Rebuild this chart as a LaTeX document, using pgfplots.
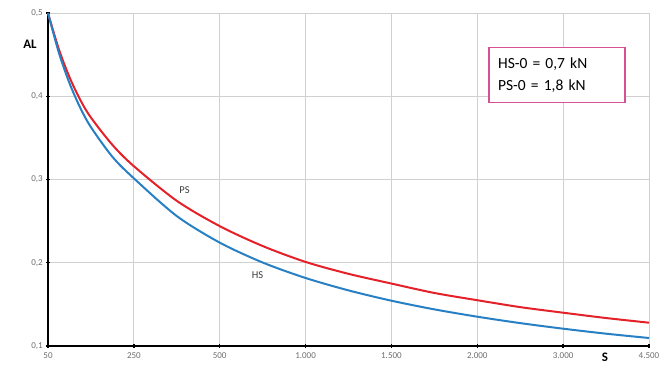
\documentclass[border=0pt]{standalone}
\usepackage{fontspec}
\setmainfont{Carlito}
\usepackage{pgfplots}
\pgfplotsset{compat=1.18}
\definecolor{redc}{RGB}{228,32,40}
\definecolor{bluec}{RGB}{40,128,196}
\definecolor{boxc}{RGB}{214,80,150}
\definecolor{gridc}{RGB}{208,208,208}
\definecolor{tickc}{RGB}{110,110,110}
\definecolor{labc}{RGB}{60,60,60}
\begin{document}
\begin{tikzpicture}
\begin{axis}[
  at={(0,0)}, anchor=south west,
  scale only axis, width=601pt, height=333pt,
  xmin=0, xmax=7, ymin=0.1, ymax=0.5,
  xtick={0,1,2,3,4,5,6,7},
  xticklabels={50,250,500,1.000,1.500,2.000,3.000,4.500},
  ytick={0.1,0.2,0.3,0.4,0.5},
  yticklabel style={/pgf/number format/.cd, use comma, fixed, fixed zerofill, precision=1},
  /pgf/number format/assume math mode=true,
  axis x line=bottom, axis y line=left,
  axis line style={-, black, line width=2pt},
  grid=major, grid style={gridc, line width=0.8pt},
  tick align=center, major tick length=3.5pt,
  tick style={black, line width=1.4pt},
  ticklabel style={font=\fontsize{9}{10}\selectfont, text=tickc},
  xticklabel style={yshift=-1pt},
  clip=false,
]
\addplot[redc, line width=2pt, smooth] coordinates {
 (0,0.500) (0.125,0.4569) (0.25,0.4230) (0.375,0.3958) (0.5,0.3744) (0.75,0.3416)
 (1,0.316) (1.5,0.2744) (2,0.244) (2.5,0.2201) (3,0.201) (3.5,0.1867) (4,0.175)
 (4.5,0.1637) (5,0.155) (5.5,0.1467) (6,0.140) (6.5,0.1336) (7,0.128)};
\addplot[bluec, line width=2pt, smooth] coordinates {
 (0,0.500) (0.125,0.4528) (0.25,0.4158) (0.375,0.3863) (0.5,0.3629) (0.75,0.3273)
 (1,0.3014) (1.5,0.2561) (2,0.2242) (2.5,0.2003) (3,0.1817) (3.5,0.1668) (4,0.1544)
 (4.5,0.1440) (5,0.1352) (5.5,0.1275) (6,0.1208) (6.5,0.1148) (7,0.1096)};
\node[font=\fontsize{10.5}{12}\selectfont, text=labc] at (axis cs:1.59,0.2875) {PS};
\node[font=\fontsize{10.5}{12}\selectfont, text=labc] at (axis cs:2.44,0.1855) {HS};
\node[draw=boxc, line width=1.3pt, fill=white, align=left, anchor=north west,
      inner xsep=9pt, inner ysep=6pt, text=black, text width=118pt,
      font=\fontsize{15.5}{22}\selectfont, minimum height=55pt]
  at (axis cs:5.13,0.459) {HS-0 = 0,7 kN\\PS-0 = 1,8 kN};
\end{axis}
\node[font=\bfseries\fontsize{13}{15}\selectfont] at (-18pt,302pt) {AL};
\node[font=\bfseries\fontsize{13}{15}\selectfont] at (557pt,-11pt) {S};
\pgfresetboundingbox
\path (-48pt,-21pt) rectangle (618pt,346pt);
\end{tikzpicture}
\end{document}
